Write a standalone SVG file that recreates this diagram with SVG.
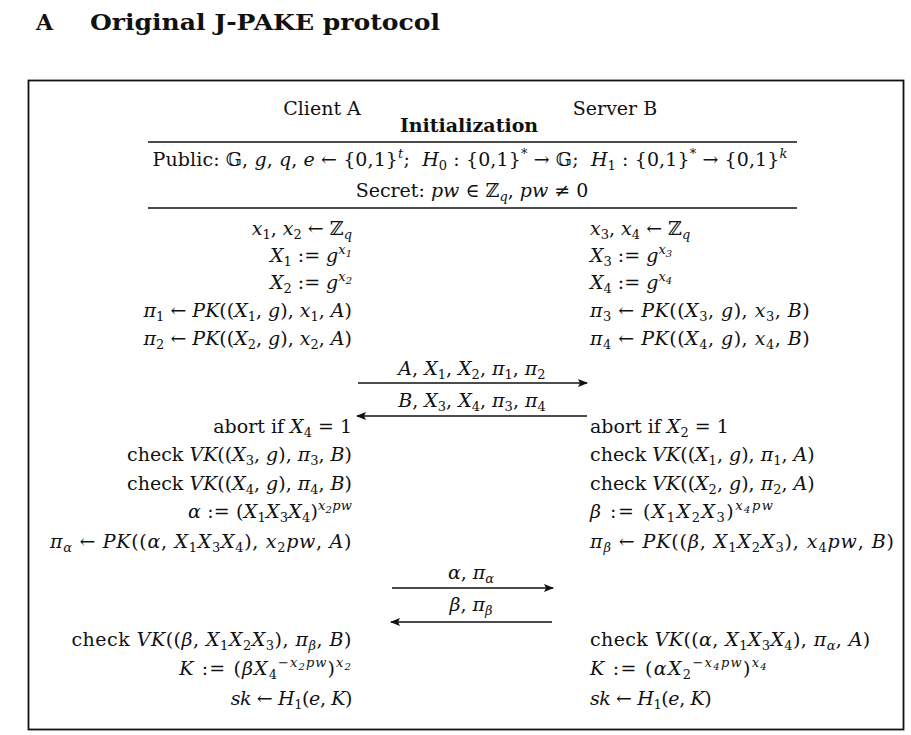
<svg xmlns="http://www.w3.org/2000/svg" width="911" height="735" viewBox="0 0 911 735">
<defs>
<style>
text{font-family:"DejaVu Serif","Liberation Serif",serif;font-size:19px;fill:#111}
.i{font-style:italic}
.b{font-weight:bold}
.sb{font-size:13px;baseline-shift:-4px}
.sp{font-size:13px;baseline-shift:8px}
.ss{font-size:10px;baseline-shift:-3px}
.L{text-anchor:end}
.C{text-anchor:middle}
.rule{stroke:#111;stroke-width:1.6}
.arr{stroke:#111;stroke-width:1.6;fill:none;marker-end:url(#ah)}
</style>
<marker id="ah" viewBox="0 0 10 8" refX="9" refY="4" markerWidth="10" markerHeight="8" markerUnits="userSpaceOnUse" orient="auto">
<path d="M0,0 L10,4 L0,8 L2,4 Z" fill="#111"/>
</marker>
</defs>
<rect width="911" height="735" fill="#fff"/>
<g id="title">
<text x="36" y="30" class="b" style="font-size:22px">A</text>
<text x="90" y="30" class="b" style="font-size:22px" textLength="350" lengthAdjust="spacingAndGlyphs">Original J-PAKE protocol</text>
</g>
<rect id="frame" x="28.5" y="80.5" width="875" height="649" fill="none" stroke="#111" stroke-width="1.8"/>
<g id="header">
<text x="322" y="115" class="C">Client A</text>
<text x="615" y="115" class="C">Server B</text>
<text x="469" y="132" class="C b">Initialization</text>
<line class="rule" x1="148" y1="142" x2="797" y2="142"/>
<text x="470" y="166" class="C" style="letter-spacing:0.1px">Public: 𝔾, <tspan class="i">g</tspan>, <tspan class="i">q</tspan>, <tspan class="i">e</tspan> ← {0,1}<tspan class="sp i">t</tspan>;&#160; <tspan class="i">H</tspan><tspan class="sb">0</tspan> : {0,1}<tspan class="sp">*</tspan> → 𝔾;&#160; <tspan class="i">H</tspan><tspan class="sb">1</tspan> : {0,1}<tspan class="sp">*</tspan> → {0,1}<tspan class="sp i">k</tspan></text>
<text x="472" y="197" class="C">Secret: <tspan class="i">pw</tspan> ∈ ℤ<tspan class="sb i">q</tspan>, <tspan class="i">pw</tspan> ≠ 0</text>
<line class="rule" x1="148" y1="208" x2="797" y2="208"/>
</g>
<g id="client-a">
<text x="352" y="235" class="L"><tspan class="i">x</tspan><tspan class="sb">1</tspan>, <tspan class="i">x</tspan><tspan class="sb">2</tspan> ← ℤ<tspan class="sb i">q</tspan></text>
<text x="352" y="262" class="L"><tspan class="i">X</tspan><tspan class="sb">1</tspan> := <tspan class="i">g</tspan><tspan class="sp i">x<tspan class="ss">1</tspan></tspan></text>
<text x="352" y="289" class="L"><tspan class="i">X</tspan><tspan class="sb">2</tspan> := <tspan class="i">g</tspan><tspan class="sp i">x<tspan class="ss">2</tspan></tspan></text>
<text x="352" y="317" class="L"><tspan class="i">π</tspan><tspan class="sb">1</tspan> ← <tspan class="i">PK</tspan>((<tspan class="i">X</tspan><tspan class="sb">1</tspan>, <tspan class="i">g</tspan>), <tspan class="i">x</tspan><tspan class="sb">1</tspan>, <tspan class="i">A</tspan>)</text>
<text x="352" y="345" class="L"><tspan class="i">π</tspan><tspan class="sb">2</tspan> ← <tspan class="i">PK</tspan>((<tspan class="i">X</tspan><tspan class="sb">2</tspan>, <tspan class="i">g</tspan>), <tspan class="i">x</tspan><tspan class="sb">2</tspan>, <tspan class="i">A</tspan>)</text>
<text x="352" y="433" class="L">abort if <tspan class="i">X</tspan><tspan class="sb">4</tspan> = 1</text>
<text x="352" y="461" class="L">check <tspan class="i">VK</tspan>((<tspan class="i">X</tspan><tspan class="sb">3</tspan>, <tspan class="i">g</tspan>), <tspan class="i">π</tspan><tspan class="sb">3</tspan>, <tspan class="i">B</tspan>)</text>
<text x="352" y="490" class="L">check <tspan class="i">VK</tspan>((<tspan class="i">X</tspan><tspan class="sb">4</tspan>, <tspan class="i">g</tspan>), <tspan class="i">π</tspan><tspan class="sb">4</tspan>, <tspan class="i">B</tspan>)</text>
<text x="352" y="518" class="L" style="letter-spacing:0.2px"><tspan class="i">α</tspan> := (<tspan class="i">X</tspan><tspan class="sb">1</tspan><tspan class="i">X</tspan><tspan class="sb">3</tspan><tspan class="i">X</tspan><tspan class="sb">4</tspan>)<tspan class="sp i">x<tspan class="ss">2</tspan>pw</tspan></text>
<text x="352" y="548" class="L" style="letter-spacing:0.7px"><tspan class="i">π</tspan><tspan class="sb i">α</tspan> ← <tspan class="i">PK</tspan>((<tspan class="i">α</tspan>, <tspan class="i">X</tspan><tspan class="sb">1</tspan><tspan class="i">X</tspan><tspan class="sb">3</tspan><tspan class="i">X</tspan><tspan class="sb">4</tspan>), <tspan class="i">x</tspan><tspan class="sb">2</tspan><tspan class="i">pw</tspan>, <tspan class="i">A</tspan>)</text>
<text x="352" y="646" class="L" style="letter-spacing:0.5px">check <tspan class="i">VK</tspan>((<tspan class="i">β</tspan>, <tspan class="i">X</tspan><tspan class="sb">1</tspan><tspan class="i">X</tspan><tspan class="sb">2</tspan><tspan class="i">X</tspan><tspan class="sb">3</tspan>), <tspan class="i">π</tspan><tspan class="sb i">β</tspan>, <tspan class="i">B</tspan>)</text>
<text x="352" y="675" class="L" style="letter-spacing:1.1px"><tspan class="i">K</tspan> := (<tspan class="i">βX</tspan><tspan class="sb">4</tspan><tspan class="sp i">−x<tspan class="ss">2</tspan>pw</tspan>)<tspan class="sp i">x<tspan class="ss">2</tspan></tspan></text>
<text x="352" y="705" class="L" style="letter-spacing:-0.4px"><tspan class="i">sk</tspan> ← <tspan class="i">H</tspan><tspan class="sb">1</tspan>(<tspan class="i">e</tspan>, <tspan class="i">K</tspan>)</text>
</g>
<g id="server-b">
<text x="590" y="235"><tspan class="i">x</tspan><tspan class="sb">3</tspan>, <tspan class="i">x</tspan><tspan class="sb">4</tspan> ← ℤ<tspan class="sb i">q</tspan></text>
<text x="590" y="262"><tspan class="i">X</tspan><tspan class="sb">3</tspan> := <tspan class="i">g</tspan><tspan class="sp i">x<tspan class="ss">3</tspan></tspan></text>
<text x="590" y="289"><tspan class="i">X</tspan><tspan class="sb">4</tspan> := <tspan class="i">g</tspan><tspan class="sp i">x<tspan class="ss">4</tspan></tspan></text>
<text x="590" y="317" style="letter-spacing:0.5px"><tspan class="i">π</tspan><tspan class="sb">3</tspan> ← <tspan class="i">PK</tspan>((<tspan class="i">X</tspan><tspan class="sb">3</tspan>, <tspan class="i">g</tspan>), <tspan class="i">x</tspan><tspan class="sb">3</tspan>, <tspan class="i">B</tspan>)</text>
<text x="590" y="345" style="letter-spacing:0.5px"><tspan class="i">π</tspan><tspan class="sb">4</tspan> ← <tspan class="i">PK</tspan>((<tspan class="i">X</tspan><tspan class="sb">4</tspan>, <tspan class="i">g</tspan>), <tspan class="i">x</tspan><tspan class="sb">4</tspan>, <tspan class="i">B</tspan>)</text>
<text x="590" y="433">abort if <tspan class="i">X</tspan><tspan class="sb">2</tspan> = 1</text>
<text x="590" y="461">check <tspan class="i">VK</tspan>((<tspan class="i">X</tspan><tspan class="sb">1</tspan>, <tspan class="i">g</tspan>), <tspan class="i">π</tspan><tspan class="sb">1</tspan>, <tspan class="i">A</tspan>)</text>
<text x="590" y="490">check <tspan class="i">VK</tspan>((<tspan class="i">X</tspan><tspan class="sb">2</tspan>, <tspan class="i">g</tspan>), <tspan class="i">π</tspan><tspan class="sb">2</tspan>, <tspan class="i">A</tspan>)</text>
<text x="590" y="518" style="letter-spacing:1.5px"><tspan class="i">β</tspan> := (<tspan class="i">X</tspan><tspan class="sb">1</tspan><tspan class="i">X</tspan><tspan class="sb">2</tspan><tspan class="i">X</tspan><tspan class="sb">3</tspan>)<tspan class="sp i">x<tspan class="ss">4</tspan>pw</tspan></text>
<text x="590" y="548" style="letter-spacing:0.9px"><tspan class="i">π</tspan><tspan class="sb i">β</tspan> ← <tspan class="i">PK</tspan>((<tspan class="i">β</tspan>, <tspan class="i">X</tspan><tspan class="sb">1</tspan><tspan class="i">X</tspan><tspan class="sb">2</tspan><tspan class="i">X</tspan><tspan class="sb">3</tspan>), <tspan class="i">x</tspan><tspan class="sb">4</tspan><tspan class="i">pw</tspan>, <tspan class="i">B</tspan>)</text>
<text x="590" y="646" style="letter-spacing:0.4px">check <tspan class="i">VK</tspan>((<tspan class="i">α</tspan>, <tspan class="i">X</tspan><tspan class="sb">1</tspan><tspan class="i">X</tspan><tspan class="sb">3</tspan><tspan class="i">X</tspan><tspan class="sb">4</tspan>), <tspan class="i">π</tspan><tspan class="sb i">α</tspan>, <tspan class="i">A</tspan>)</text>
<text x="590" y="675" style="letter-spacing:1.3px"><tspan class="i">K</tspan> := (<tspan class="i">αX</tspan><tspan class="sb">2</tspan><tspan class="sp i">−x<tspan class="ss">4</tspan>pw</tspan>)<tspan class="sp i">x<tspan class="ss">4</tspan></tspan></text>
<text x="590" y="705" style="letter-spacing:-0.4px"><tspan class="i">sk</tspan> ← <tspan class="i">H</tspan><tspan class="sb">1</tspan>(<tspan class="i">e</tspan>, <tspan class="i">K</tspan>)</text>
</g>
<g id="connectors">
<line class="arr" x1="358" y1="383" x2="587" y2="383"/>
<line class="arr" x1="587" y1="416" x2="357" y2="416"/>
<line class="arr" x1="392" y1="588" x2="553" y2="588"/>
<line class="arr" x1="552" y1="622" x2="391" y2="622"/>
</g>
<g id="labels">
<text x="472" y="375" class="C"><tspan class="i">A</tspan>, <tspan class="i">X</tspan><tspan class="sb">1</tspan>, <tspan class="i">X</tspan><tspan class="sb">2</tspan>, <tspan class="i">π</tspan><tspan class="sb">1</tspan>, <tspan class="i">π</tspan><tspan class="sb">2</tspan></text>
<text x="472" y="407" class="C"><tspan class="i">B</tspan>, <tspan class="i">X</tspan><tspan class="sb">3</tspan>, <tspan class="i">X</tspan><tspan class="sb">4</tspan>, <tspan class="i">π</tspan><tspan class="sb">3</tspan>, <tspan class="i">π</tspan><tspan class="sb">4</tspan></text>
<text x="471" y="579" class="C"><tspan class="i">α</tspan>, <tspan class="i">π</tspan><tspan class="sb i">α</tspan></text>
<text x="471" y="611" class="C"><tspan class="i">β</tspan>, <tspan class="i">π</tspan><tspan class="sb i">β</tspan></text>
</g>
</svg>
